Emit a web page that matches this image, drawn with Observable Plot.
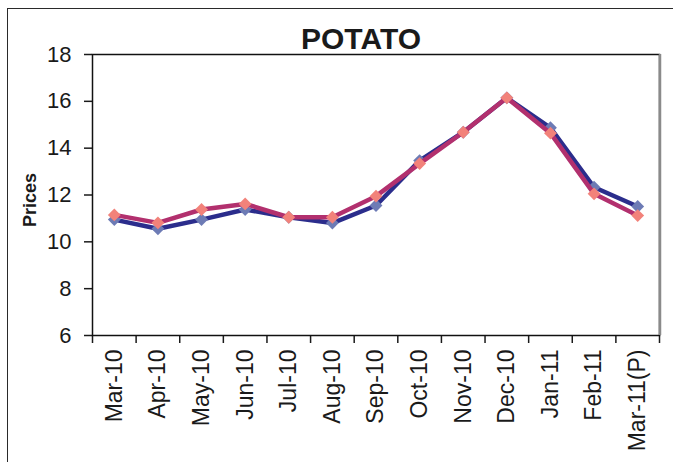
<!DOCTYPE html>
<html>
<head>
<meta charset="utf-8">
<script src="https://cdn.jsdelivr.net/npm/d3@7"></script>
<script src="https://cdn.jsdelivr.net/npm/@observablehq/plot@0.6"></script>
<style>
  html, body { margin: 0; padding: 0; background: #fff; }
  #wrap { position: relative; width: 673px; height: 462px; overflow: hidden; }
  #border { position: absolute; left: 7px; top: 8px; width: 700px; height: 500px;
            border-left: 1.5px solid #2a2a2a; border-top: 1.5px solid #2a2a2a; }
  #chart { position: absolute; left: 0; top: 0; }
</style>
</head>
<body>
<div id="wrap"><div id="border"></div><div id="chart"></div></div>
<script>
const months = ["Mar-10","Apr-10","May-10","Jun-10","Jul-10","Aug-10","Sep-10","Oct-10","Nov-10","Dec-10","Jan-11","Feb-11","Mar-11(P)"];
const seriesA = [10.95, 10.56, 10.95, 11.38, 11.05, 10.80, 11.55, 13.47, 14.68, 16.15, 14.87, 12.33, 11.51];
const seriesB = [11.15, 10.81, 11.38, 11.62, 11.05, 11.05, 11.95, 13.34, 14.68, 16.15, 14.64, 12.05, 11.12];
const yTicks = [6, 8, 10, 12, 14, 16, 18];
const title = "POTATO";
const yLabel = "Prices";

const data = months.map((m, i) => ({i, m, a: seriesA[i], b: seriesB[i]}));
const idx = months.map((_, i) => i);
const bounds = d3.range(months.length + 1).map(i => i - 0.5);

const chart = Plot.plot({
  width: 673,
  height: 462,
  marginLeft: 92,
  marginRight: 14,
  marginTop: 54,
  marginBottom: 127,
  x: {type: "linear", domain: [-0.5, months.length - 0.5]},
  y: {domain: [6, 18]},
  style: {fontFamily: "'Liberation Sans', Arial, sans-serif", fontSize: "22px", color: "#1a1a1a", background: "transparent", overflow: "visible"},
  marks: [
    Plot.axisY(yTicks, {tickSize: 8, tickPadding: 13, label: null, strokeWidth: 1.5, fontSize: 22}),
    Plot.axisX(idx, {tickSize: 0, tickRotate: -90, tickPadding: 14, tickFormat: i => months[i], label: null, fontSize: 23}),
    Plot.axisX(bounds, {tickSize: 8, tickFormat: () => "", label: null, strokeWidth: 1.5}),
    Plot.frame({stroke: "#111", strokeWidth: 1.5}),
    Plot.ruleX([months.length - 0.5], {stroke: "#8a8a8a", strokeWidth: 2.5, dx: 0.5}),
    Plot.line(data, {x: "i", y: "a", stroke: "#2B2D8C", strokeWidth: 4.5}),
    Plot.dot(data, {x: "i", y: "a", symbol: "diamond2", r: 5.8, fill: "#6D7BB5", stroke: "none"}),
    Plot.line(data, {x: "i", y: "b", stroke: "#B2306E", strokeWidth: 4.5}),
    Plot.dot(data, {x: "i", y: "b", symbol: "diamond2", r: 5.8, fill: "#F2827A", stroke: "none"}),
    Plot.text([title], {frameAnchor: "top", lineAnchor: "bottom", dy: -6, dx: -15, fontSize: 30, fontWeight: "bold", fill: "#1a1a1a"}),
    Plot.text([yLabel], {frameAnchor: "left", textAnchor: "middle", rotate: -90, dx: -62, dy: 5, fontSize: 18, fontWeight: "bold", fill: "#1a1a1a"})
  ]
});
document.getElementById("chart").appendChild(chart);
</script>
</body>
</html>
